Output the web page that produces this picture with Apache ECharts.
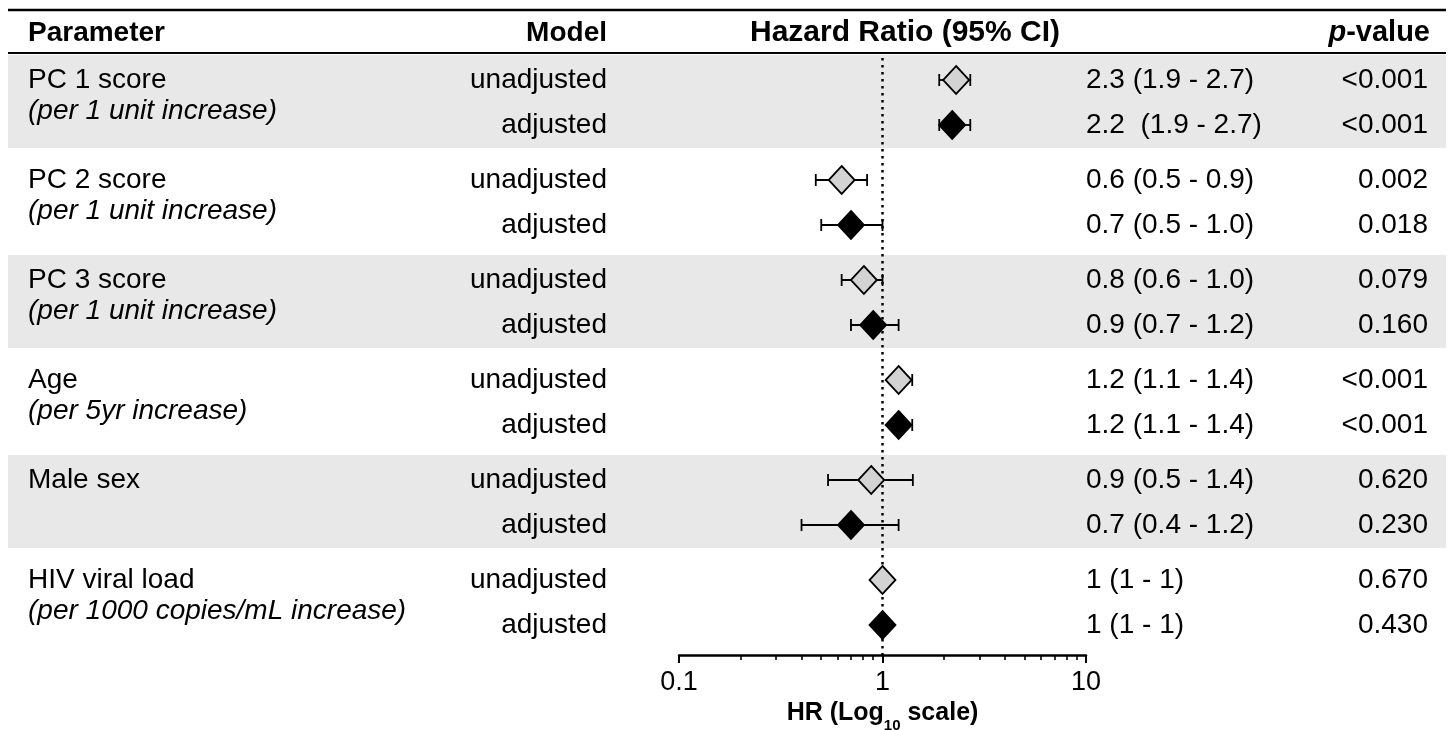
<!DOCTYPE html>
<html>
<head>
<meta charset="utf-8">
<script src="https://cdn.jsdelivr.net/npm/echarts@6/dist/echarts.min.js"></script>
<style>
html,body{margin:0;padding:0;background:#fff;}
#chart{width:1450px;height:730px;}
</style>
</head>
<body>
<div id="chart"></div>
<script>
// ---------- data ----------
const groups = ['PC 1 score', 'PC 2 score', 'PC 3 score', 'Age', 'Male sex', 'HIV viral load'];
const groupNotes = ['(per 1 unit increase)', '(per 1 unit increase)', '(per 1 unit increase)', '(per 5yr increase)', '', '(per 1000 copies/mL increase)'];
const models = ['unadjusted', 'adjusted'];

const hrUnadj   = [2.3, 0.63, 0.81, 1.2, 0.88, 1.0];
const lowUnadj  = [1.9, 0.47, 0.63, 1.1, 0.54, 1.0];
const highUnadj = [2.7, 0.84, 1.0, 1.4, 1.41, 1.0];

const hrAdj   = [2.2, 0.70, 0.90, 1.2, 0.70, 1.0];
const lowAdj  = [1.9, 0.50, 0.70, 1.1, 0.40, 1.0];
const highAdj = [2.7, 1.0, 1.2, 1.4, 1.2, 1.0];

const ciTextUnadj = ['2.3 (1.9 - 2.7)', '0.6 (0.5 - 0.9)', '0.8 (0.6 - 1.0)', '1.2 (1.1 - 1.4)', '0.9 (0.5 - 1.4)', '1 (1 - 1)'];
const ciTextAdj   = ['2.2  (1.9 - 2.7)', '0.7 (0.5 - 1.0)', '0.9 (0.7 - 1.2)', '1.2 (1.1 - 1.4)', '0.7 (0.4 - 1.2)', '1 (1 - 1)'];
const pUnadj = ['<0.001', '0.002', '0.079', '<0.001', '0.620', '0.670'];
const pAdj   = ['<0.001', '0.018', '0.160', '<0.001', '0.230', '0.430'];

const majorTicks = [0.1, 1, 10];
const minorTicks = [0.2, 0.3, 0.4, 0.5, 0.6, 0.7, 0.8, 0.9, 2, 3, 4, 5, 6, 7, 8, 9];
const refValue = 1;

// ---------- layout helpers ----------
const FONT = 'Liberation Sans, Arial, Helvetica, sans-serif';
const GROUP_H = 100, ROW_OFF = 30, ROW_GAP = 45;
const rowY = (g, r) => g * GROUP_H + ROW_OFF + r * ROW_GAP;
const LINE_L = 8, LINE_R = 1446;
const Y_MAX = 605;

const unadjPts = hrUnadj.map((v, g) => [v, rowY(g, 0)]);
const adjPts = hrAdj.map((v, g) => [v, rowY(g, 1)]);
const errData = [];
groups.forEach((_, g) => {
  errData.push([lowUnadj[g], highUnadj[g], rowY(g, 0)]);
  errData.push([lowAdj[g], highAdj[g], rowY(g, 1)]);
});
const textData = [];
groups.forEach((_, g) => {
  models.forEach((_, r) => textData.push([refValue, rowY(g, r), g, r]));
});
const bandData = [0, 2, 4].map(g => [g * GROUP_H + 5, g * GROUP_H + 98]);

const chart = echarts.init(document.getElementById('chart'), null, {renderer: 'canvas'});

const txt = (s, x, y, align, extra) => ({
  type: 'text', x: x, y: y,
  style: Object.assign({text: s, fill: '#000', font: '28px ' + FONT, align: align, verticalAlign: 'middle'}, extra || {})
});

const gridBox = {left: 679, right: 364, top: 50, height: Y_MAX, containLabel: false, outerBoundsMode: 'none'};

chart.setOption({
  animation: false,
  backgroundColor: '#fff',
  grid: [Object.assign({}, gridBox), Object.assign({}, gridBox)],
  xAxis: [{
    gridIndex: 0,
    type: 'log', logBase: 10, min: 0.1, max: 10, position: 'bottom',
    axisLine: {show: true, onZero: false, lineStyle: {color: '#000', width: 2.5}},
    axisTick: {show: true, length: 8, lineStyle: {color: '#000', width: 2}, customValues: majorTicks},
    axisLabel: {show: true, color: '#000', fontSize: 27, fontFamily: FONT, margin: 14, customValues: majorTicks,
      formatter: v => String(+(+v).toPrecision(3))},
    splitLine: {show: false},
    name: '{a|HR (Log}{s|10}{a| scale)}',
    nameLocation: 'middle', nameGap: 40,
    nameTextStyle: {
      rich: {
        a: {fontSize: 25, fontWeight: 'bold', fontFamily: FONT, color: '#000', lineHeight: 30, verticalAlign: 'top'},
        s: {fontSize: 15, fontWeight: 'bold', fontFamily: FONT, color: '#000', lineHeight: 15, verticalAlign: 'top', padding: [17, 0, 0, 0]}
      }
    }
  }, {
    gridIndex: 1,
    type: 'log', logBase: 10, min: 0.1, max: 10, position: 'bottom',
    axisLine: {show: false, onZero: false},
    axisTick: {show: true, length: 5, lineStyle: {color: '#000', width: 1.6}, customValues: minorTicks},
    axisLabel: {show: false},
    splitLine: {show: false}
  }],
  yAxis: [
    {gridIndex: 0, type: 'value', min: 0, max: Y_MAX, inverse: true, show: false},
    {gridIndex: 1, type: 'value', min: 0, max: Y_MAX, inverse: true, show: false}
  ],
  graphic: [
    {type: 'line', shape: {x1: LINE_L, y1: 10, x2: LINE_R, y2: 10}, style: {stroke: '#000', lineWidth: 2.5}},
    {type: 'line', shape: {x1: LINE_L, y1: 53, x2: LINE_R, y2: 53}, style: {stroke: '#000', lineWidth: 2}},
    {type: 'text', x: 28, y: 33, style: {text: 'Parameter', font: 'bold 28px ' + FONT, fill: '#000', align: 'left', verticalAlign: 'middle'}},
    {type: 'text', x: 607, y: 33, style: {text: 'Model', font: 'bold 28px ' + FONT, fill: '#000', align: 'right', verticalAlign: 'middle'}},
    {type: 'text', x: 905, y: 33, style: {text: 'Hazard Ratio (95% CI)', font: 'bold 30px ' + FONT, fill: '#000', align: 'center', verticalAlign: 'middle'}},
    {type: 'text', x: 1430, y: 33, style: {
      text: '{i|p}{b|-value}', align: 'right', verticalAlign: 'middle',
      rich: {
        i: {fontSize: 29, fontWeight: 'bold', fontStyle: 'italic', fontFamily: FONT, fill: '#000'},
        b: {fontSize: 29, fontWeight: 'bold', fontFamily: FONT, fill: '#000'}
      }
    }}
  ],
  series: [
    {
      type: 'custom', name: 'bands', z: 0, clip: false, silent: true,
      xAxisIndex: 0, yAxisIndex: 0,
      data: bandData,
      encode: {y: [0, 1]},
      renderItem: (params, api) => {
        const y1 = api.coord([refValue, api.value(0)])[1];
        const y2 = api.coord([refValue, api.value(1)])[1];
        return {type: 'rect', shape: {x: LINE_L, y: y1, width: LINE_R - LINE_L, height: y2 - y1}, style: {fill: '#e8e8e8'}};
      }
    },
    {
      type: 'custom', name: 'reference', z: 2, clip: false, silent: true,
      xAxisIndex: 0, yAxisIndex: 0,
      data: [[refValue, 8, Y_MAX]],
      encode: {x: 0, y: [1, 2]},
      renderItem: (params, api) => {
        const a = api.coord([api.value(0), api.value(1)]);
        const b = api.coord([api.value(0), api.value(2)]);
        return {type: 'line', shape: {x1: a[0], y1: a[1], x2: b[0], y2: b[1]},
          style: {stroke: '#000', lineWidth: 2.5, lineDash: [2.5, 4.5]}};
      }
    },
    {
      type: 'custom', name: 'ci', z: 3, clip: false, silent: true,
      xAxisIndex: 0, yAxisIndex: 0,
      data: errData,
      encode: {x: [0, 1], y: 2},
      renderItem: (params, api) => {
        const lo = api.coord([api.value(0), api.value(2)]);
        const hi = api.coord([api.value(1), api.value(2)]);
        const h = 6;
        const st = {stroke: '#000', lineWidth: 1.8};
        return {type: 'group', children: [
          {type: 'line', shape: {x1: lo[0], y1: lo[1], x2: hi[0], y2: hi[1]}, style: st},
          {type: 'line', shape: {x1: lo[0], y1: lo[1] - h, x2: lo[0], y2: lo[1] + h}, style: st},
          {type: 'line', shape: {x1: hi[0], y1: hi[1] - h, x2: hi[0], y2: hi[1] + h}, style: st}
        ]};
      }
    },
    {
      type: 'scatter', name: 'unadjusted', z: 4, silent: true,
      xAxisIndex: 0, yAxisIndex: 0,
      symbol: 'diamond', symbolSize: [26, 28],
      itemStyle: {color: '#d3d3d3', borderColor: '#000', borderWidth: 1.8, opacity: 1},
      data: unadjPts
    },
    {
      type: 'scatter', name: 'adjusted', z: 4, silent: true,
      xAxisIndex: 0, yAxisIndex: 0,
      symbol: 'diamond', symbolSize: [26, 28],
      itemStyle: {color: '#000', borderColor: '#000', borderWidth: 1.8, opacity: 1},
      data: adjPts
    },
    {
      type: 'custom', name: 'table', z: 5, clip: false, silent: true,
      xAxisIndex: 0, yAxisIndex: 0,
      data: textData,
      encode: {x: 0, y: 1},
      renderItem: (params, api) => {
        const y = api.coord([refValue, api.value(1)])[1];
        const g = api.value(2), r = api.value(3);
        const children = [
          txt(models[r], 607, y, 'right'),
          txt(r === 0 ? ciTextUnadj[g] : ciTextAdj[g], 1086, y, 'left'),
          txt(r === 0 ? pUnadj[g] : pAdj[g], 1428, y, 'right')
        ];
        if (r === 0) {
          children.push(txt(groups[g], 28, y, 'left'));
          if (groupNotes[g]) children.push(txt(groupNotes[g], 28, y + 31, 'left', {font: 'italic 28px ' + FONT}));
        }
        return {type: 'group', children: children};
      }
    }
  ]
});
</script>
</body>
</html>
